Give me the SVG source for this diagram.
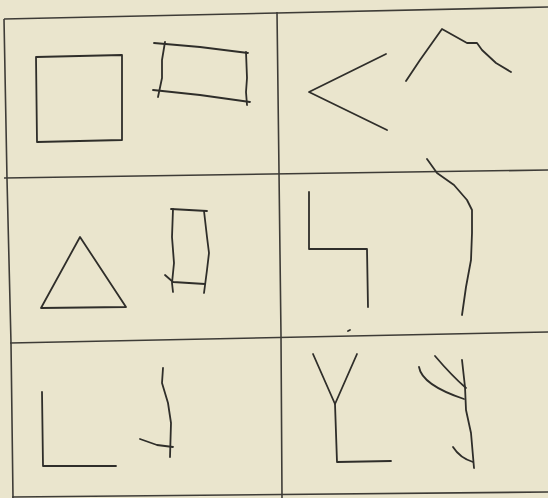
<svg xmlns="http://www.w3.org/2000/svg" width="548" height="498" viewBox="0 0 548 498">
<style>
.ln{fill:none;stroke:#2f2e2a;stroke-width:1.8;stroke-linecap:round;stroke-linejoin:round}
.grid{fill:none;stroke:#3e3c37;stroke-width:1.6}
</style>
<rect x="0" y="0" width="548" height="498" fill="#eae5cd"/>
<g id="grid">
<path class="grid" d="M4,19 L548,7"/>
<path class="grid" d="M4,19 L7,179 L11,343 L13,498"/>
<path class="grid" d="M277,12 L279,172 L281,336 L282,498"/>
<path class="grid" d="M4,178 L548,170"/>
<path class="grid" d="M10,343 L548,332"/>
<path class="grid" d="M12,497 L548,492"/>
</g>
<g id="cell-square">
<path class="ln" d="M36,57 L122,55 L122,140 L37,142 Z"/>
<path class="ln" d="M154,43 L200,47 L248,53"/>
<path class="ln" d="M165,42 L162,60 L162,78 L158,97"/>
<path class="ln" d="M153,90 L200,95 L250,102"/>
<path class="ln" d="M246,52 L247,78 L246,92 L247,105"/>
</g>
<g id="cell-angle">
<path class="ln" d="M386,54 L309,92 L387,130"/>
<path class="ln" d="M406,81 L420,60 L442,29 L467,43 L477,43 L482,50 L496,63 L511,72"/>
<path class="ln" d="M427,159 L437,173 L454,185 L467,200 L472,210 L472,233 L471,260 L466,287 L462,315"/>
</g>
<g id="cell-triangle">
<path class="ln" d="M80,237 L41,308 L126,307 Z"/>
<path class="ln" d="M171,209 L207,211"/>
<path class="ln" d="M173,209 L172,237 L174,263 L172,283 L173,292"/>
<path class="ln" d="M204,211 L207,237 L209,253 L207,270 L204,293"/>
<path class="ln" d="M165,275 L173,282 L205,284"/>
</g>
<g id="cell-step">
<path class="ln" d="M309,192 L309,249 L367,249 L368,307"/>
<path class="ln" d="M348,331 L350,330" stroke-width="1"/>
</g>
<g id="cell-L">
<path class="ln" d="M42,392 L43,466 L116,466"/>
<path class="ln" d="M163,368 L162,383 L168,403 L171,423 L170,457"/>
<path class="ln" d="M140,439 L157,445 L173,447"/>
</g>
<g id="cell-Y">
<path class="ln" d="M313,354 L335,404 L357,354"/>
<path class="ln" d="M335,404 L337,462 L391,461"/>
<path class="ln" d="M462,360 L465,387 L466,410 L471,433 L474,468"/>
<path class="ln" d="M435,356 Q452,376 466,388"/>
<path class="ln" d="M419,367 Q422,385 464,399"/>
<path class="ln" d="M453,447 Q460,458 473,462"/>
</g>
</svg>
